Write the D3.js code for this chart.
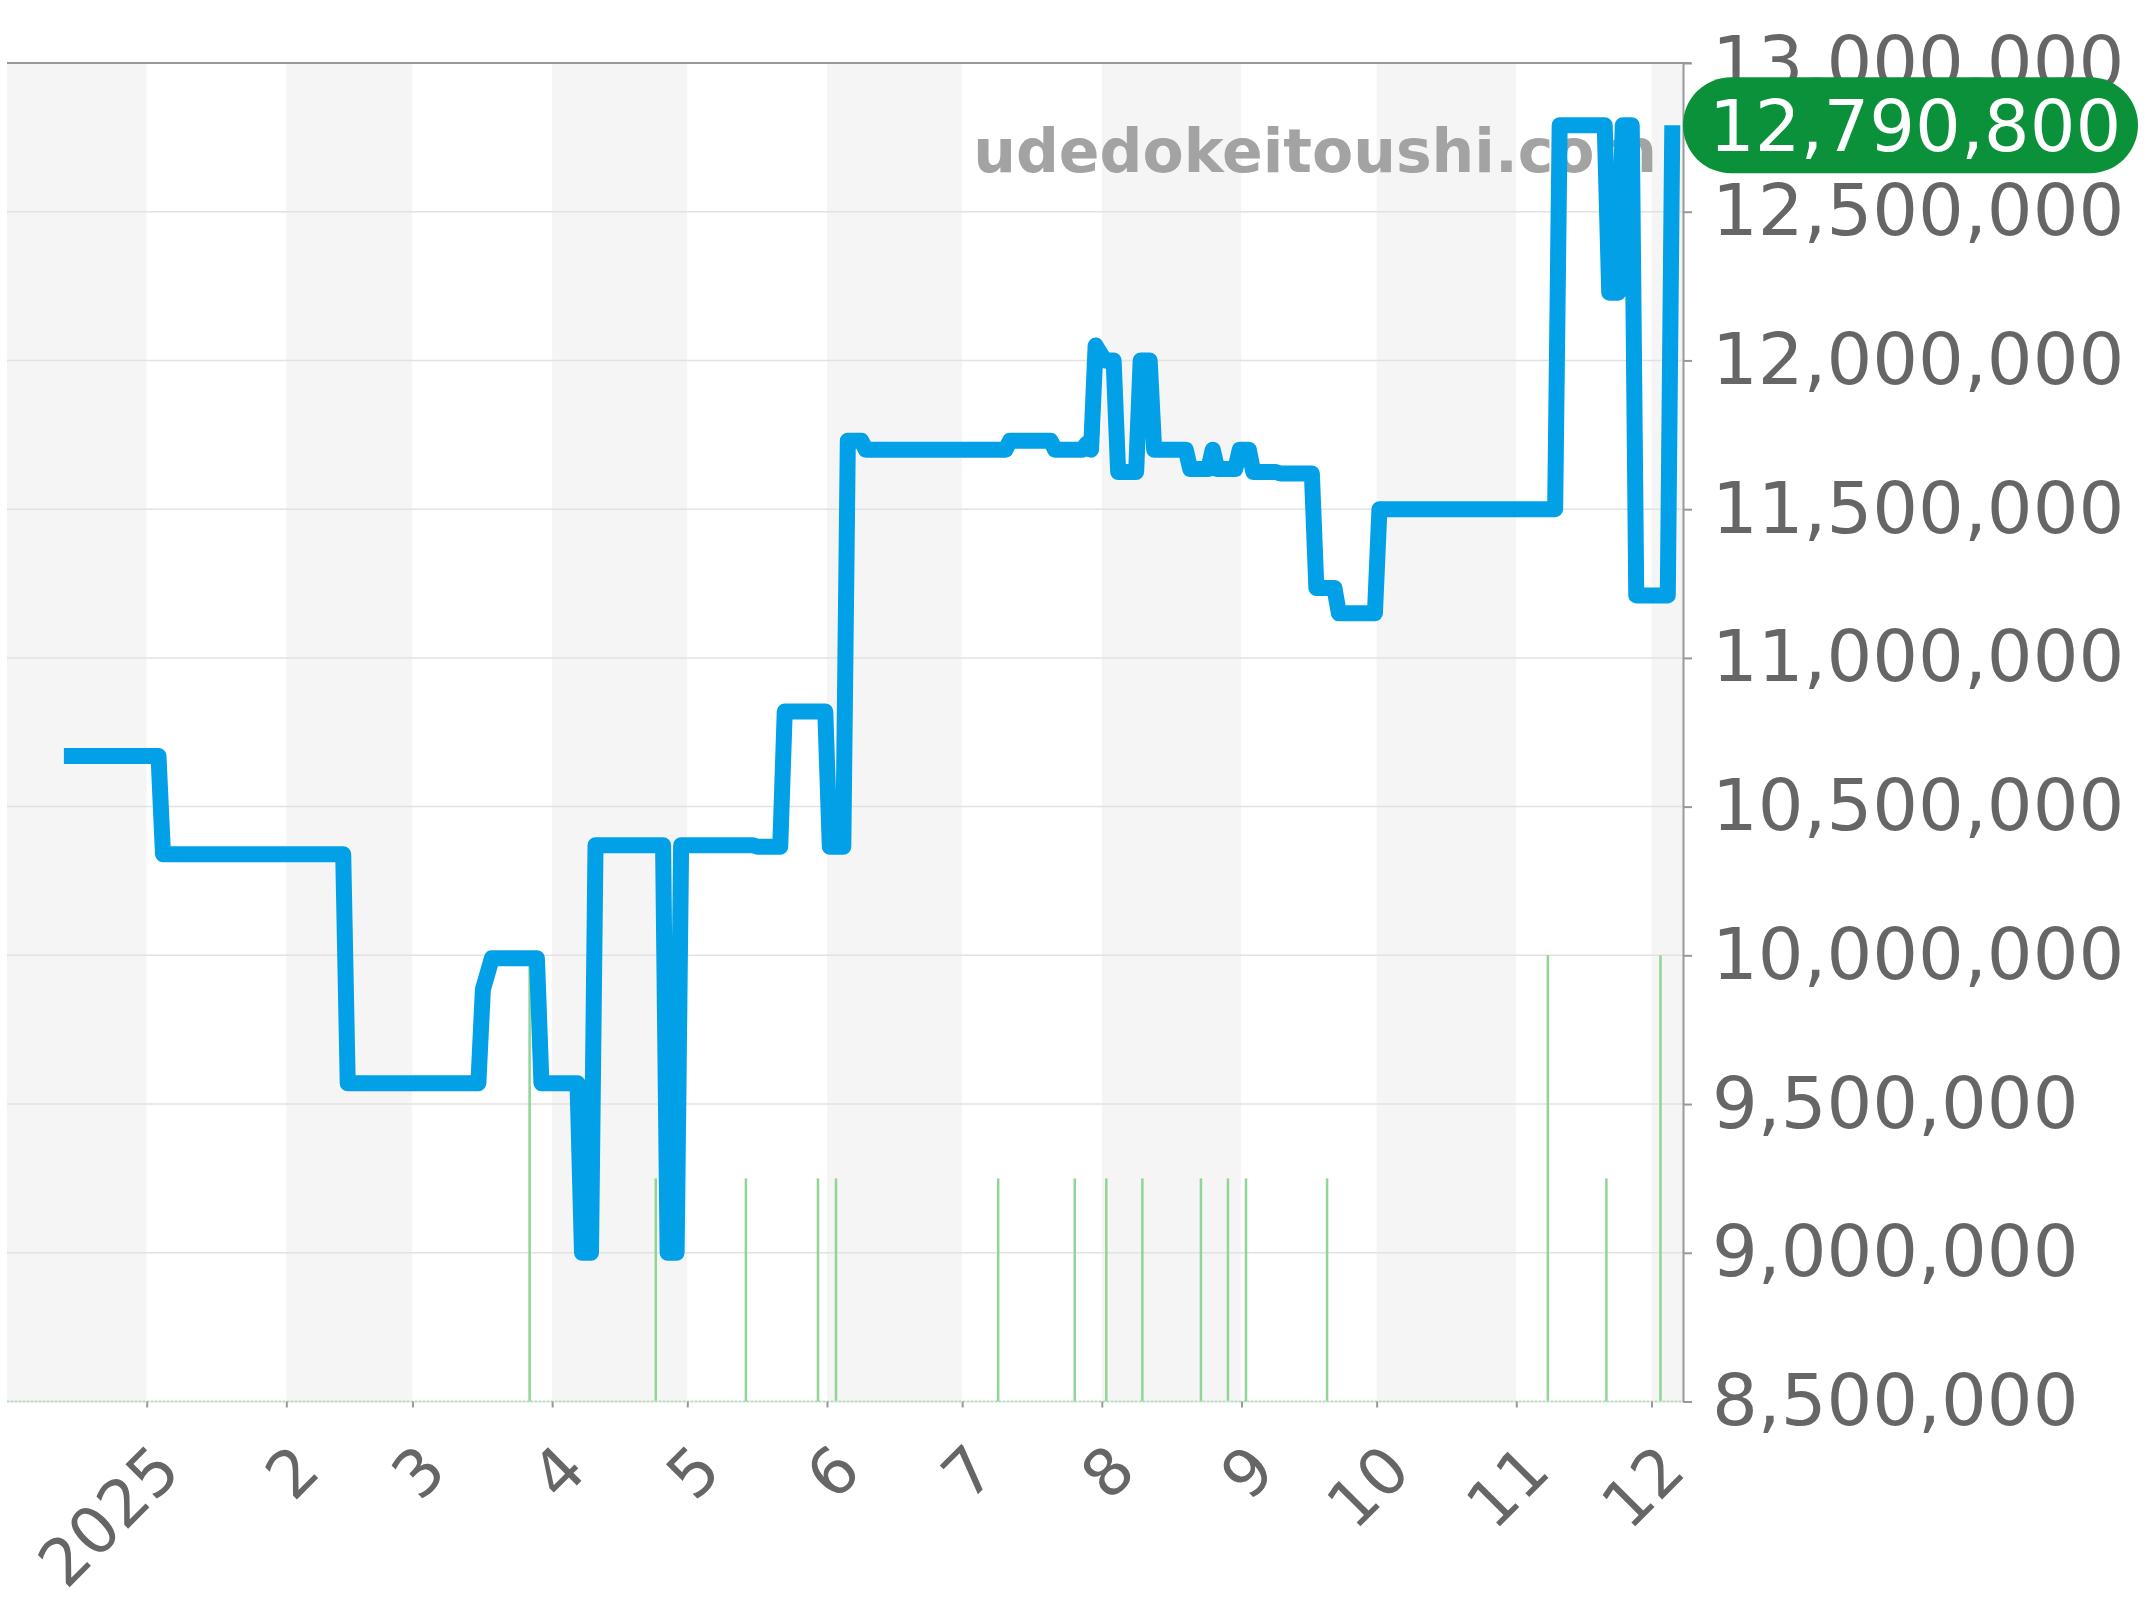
<!DOCTYPE html>
<meta charset="utf-8">
<head>
<style>
  body { margin: 0; background: #fff; }
  svg { display: block; font-family: "DejaVu Sans", sans-serif; }
  .grid { stroke: #e2e2e2; stroke-width: 1.5px; }
  .price { fill: none; stroke: #02a0e6; stroke-width: 16px; stroke-linejoin: round; stroke-linecap: butt; }
  .sale { stroke: #8fd596; stroke-width: 2.5px; }
  .axis text { fill: #666; font-size: 72px; font-family: "DejaVu Sans", sans-serif; }
  .axis line, .axis path { stroke: #999; stroke-width: 2px; }
</style>
</head>
<body>
<script src="https://cdn.jsdelivr.net/npm/d3@7"></script>
<script>
// price history (dates are Japan time)
var priceDates = [
  "2024-12-14", "2025-01-04", "2025-01-05", "2025-02-14", "2025-02-15",
  "2025-03-16", "2025-03-17", "2025-03-19", "2025-03-29", "2025-03-30",
  "2025-04-07", "2025-04-08", "2025-04-10", "2025-04-11", "2025-04-26",
  "2025-04-27", "2025-04-29", "2025-04-30", "2025-05-16", "2025-05-17",
  "2025-05-22", "2025-05-23", "2025-06-01", "2025-06-02", "2025-06-05",
  "2025-06-06", "2025-06-09", "2025-06-10", "2025-07-11", "2025-07-12",
  "2025-07-21", "2025-07-22", "2025-07-28", "2025-07-29", "2025-07-30",
  "2025-07-31", "2025-08-02", "2025-08-04", "2025-08-05", "2025-08-09",
  "2025-08-10", "2025-08-12", "2025-08-13", "2025-08-20", "2025-08-21",
  "2025-08-25", "2025-08-26", "2025-08-27", "2025-08-31", "2025-09-01",
  "2025-09-03", "2025-09-04", "2025-09-09", "2025-09-10", "2025-09-17",
  "2025-09-18", "2025-09-22", "2025-09-23", "2025-10-01", "2025-10-02",
  "2025-11-10", "2025-11-11", "2025-11-21", "2025-11-22", "2025-11-24",
  "2025-11-25", "2025-11-27", "2025-11-28", "2025-12-05", "2025-12-06"
];
var priceValues = [
  10670000, 10670000, 10340000, 10340000, 9570000,
  9570000, 9885000, 9990000, 9990000, 9570000,
  9570000, 9000000, 9000000, 10370000, 10370000,
  9000000, 9000000, 10370000, 10370000, 10365000,
  10365000, 10820000, 10820000, 10365000, 10365000,
  11730000, 11730000, 11700000, 11700000, 11730000,
  11730000, 11700000, 11700000, 11720000, 11700000,
  12050000, 12000000, 12000000, 11625000, 11625000,
  12000000, 12000000, 11700000, 11700000, 11635000,
  11635000, 11700000, 11635000, 11635000, 11700000,
  11700000, 11625000, 11625000, 11620000, 11620000,
  11235000, 11235000, 11150000, 11150000, 11500000,
  11500000, 12790800, 12790800, 12228000, 12228000,
  12790800, 12790800, 11210000, 11210000, 12790800
];

// number of sales per day
var saleDates = [
  "2025-03-27", "2025-04-24", "2025-05-14", "2025-05-30", "2025-06-03",
  "2025-07-09", "2025-07-26", "2025-08-02", "2025-08-10", "2025-08-23",
  "2025-08-29", "2025-09-02", "2025-09-20", "2025-11-08", "2025-11-21",
  "2025-12-03"
];
var saleCounts = [2, 1, 1, 1, 1, 1, 1, 1, 1, 1, 1, 1, 1, 2, 1, 2];

var yTicks = [8500000, 9000000, 9500000, 10000000, 10500000, 11000000,
              11500000, 12000000, 12500000, 13000000];
var monthTicks = ["2025-01-01", "2025-02-01", "2025-03-01", "2025-04-01",
                  "2025-05-01", "2025-06-01", "2025-07-01", "2025-08-01",
                  "2025-09-01", "2025-10-01", "2025-11-01", "2025-12-01"];
var monthLabels = ["2025", "2", "3", "4", "5", "6", "7", "8", "9", "10", "11", "12"];
var latestPrice = 12790800;
var siteName = "udedokeitoushi.com";

// plot box
var plotLeft = 7, plotRight = 1683, plotTop = 63, plotBottom = 1401.5;

var svg = d3.select("body").append("svg")
    .attr("width", 2144)
    .attr("height", 1600);

var parseUtc = d3.utcParse("%Y-%m-%d");
function parseJst(s) { return new Date(s + "T00:00:00+09:00"); }

// set the ranges
var x = d3.scaleUtc()
    .domain([parseUtc("2024-12-01"), parseUtc("2025-12-08")])
    .range([plotLeft, plotRight]);
var y = d3.scaleLinear()
    .domain([8500000, 13000000])
    .range([plotBottom, plotTop]);
var ySales = d3.scaleLinear()
    .domain([0, 6])
    .range([plotBottom, plotTop]);

// alternate month shading
var months = d3.utcMonth.range(d3.utcMonth.floor(x.domain()[0]), x.domain()[1]);
svg.append("g").selectAll("rect")
    .data(months)
    .enter().append("rect")
    .attr("x", function(d) { return x(d); })
    .attr("y", plotTop)
    .attr("width", function(d) {
        return Math.min(x(d3.utcMonth.offset(d, 1)), plotRight) - x(d);
    })
    .attr("height", plotBottom - plotTop)
    .attr("fill", function(d) { return d.getUTCMonth() % 2 === 1 ? "#f5f5f5" : "#fff"; });

// horizontal grid
svg.append("g").selectAll("line")
    .data(yTicks)
    .enter().append("line")
    .attr("class", "grid")
    .attr("x1", plotLeft).attr("x2", plotRight)
    .attr("y1", function(d) { return y(d); })
    .attr("y2", function(d) { return y(d); });

// sales bars
svg.append("g").selectAll("line")
    .data(saleDates)
    .enter().append("line")
    .attr("class", "sale")
    .attr("x1", function(d) { return x(parseUtc(d)); })
    .attr("x2", function(d) { return x(parseUtc(d)); })
    .attr("y1", ySales(0))
    .attr("y2", function(d, i) { return ySales(saleCounts[i]); });

svg.append("line")
    .attr("x1", plotLeft).attr("x2", plotRight)
    .attr("y1", plotBottom).attr("y2", plotBottom)
    .attr("stroke", "#b5e3b9")
    .attr("stroke-width", 2)
    .attr("stroke-dasharray", "2,2");

// watermark
svg.append("text")
    .attr("x", 1657)
    .attr("y", 172)
    .attr("text-anchor", "end")
    .style("font-size", "60px")
    .style("font-weight", "bold")
    .style("fill", "#a3a3a3")
    .text(siteName);

// price line
var line = d3.line()
    .x(function(d, i) { return x(parseJst(d)); })
    .y(function(d, i) { return y(priceValues[i]); });

svg.append("path")
    .attr("class", "price")
    .attr("d", line(priceDates));

// top border
svg.append("line")
    .attr("x1", plotLeft).attr("x2", plotRight + 8)
    .attr("y1", plotTop).attr("y2", plotTop)
    .attr("stroke", "#999")
    .attr("stroke-width", 2);

// bottom axis
var xAxis = svg.append("g")
    .attr("class", "axis")
    .attr("transform", "translate(0," + plotBottom + ")")
    .call(d3.axisBottom(x)
        .tickValues(monthTicks.map(parseUtc))
        .tickSize(6)
        .tickFormat(function(d, i) { return monthLabels[i]; }));
xAxis.select(".domain").remove();
xAxis.selectAll("text")
    .attr("x", 0).attr("y", 0).attr("dy", 0)
    .attr("transform", "translate(36,72) rotate(-45)")
    .style("text-anchor", "end")
    .style("font-size", "65px");

// right axis
svg.append("g")
    .attr("class", "axis")
    .attr("transform", "translate(" + plotRight + ",0)")
    .call(d3.axisRight(y)
        .tickValues(yTicks)
        .tickSize(9)
        .tickSizeOuter(0)
        .tickPadding(20)
        .tickFormat(d3.format(",")));

// latest price badge
var by = y(latestPrice);
svg.append("rect")
    .attr("x", plotRight)
    .attr("y", by - 48)
    .attr("width", 455)
    .attr("height", 96)
    .attr("rx", 48)
    .attr("fill", "#0a9139");
svg.append("text")
    .attr("x", 1709)
    .attr("y", by)
    .attr("dy", "0.36em")
    .style("font-size", "72px")
    .style("fill", "#fff")
    .text(d3.format(",")(latestPrice));
</script>
</body>
